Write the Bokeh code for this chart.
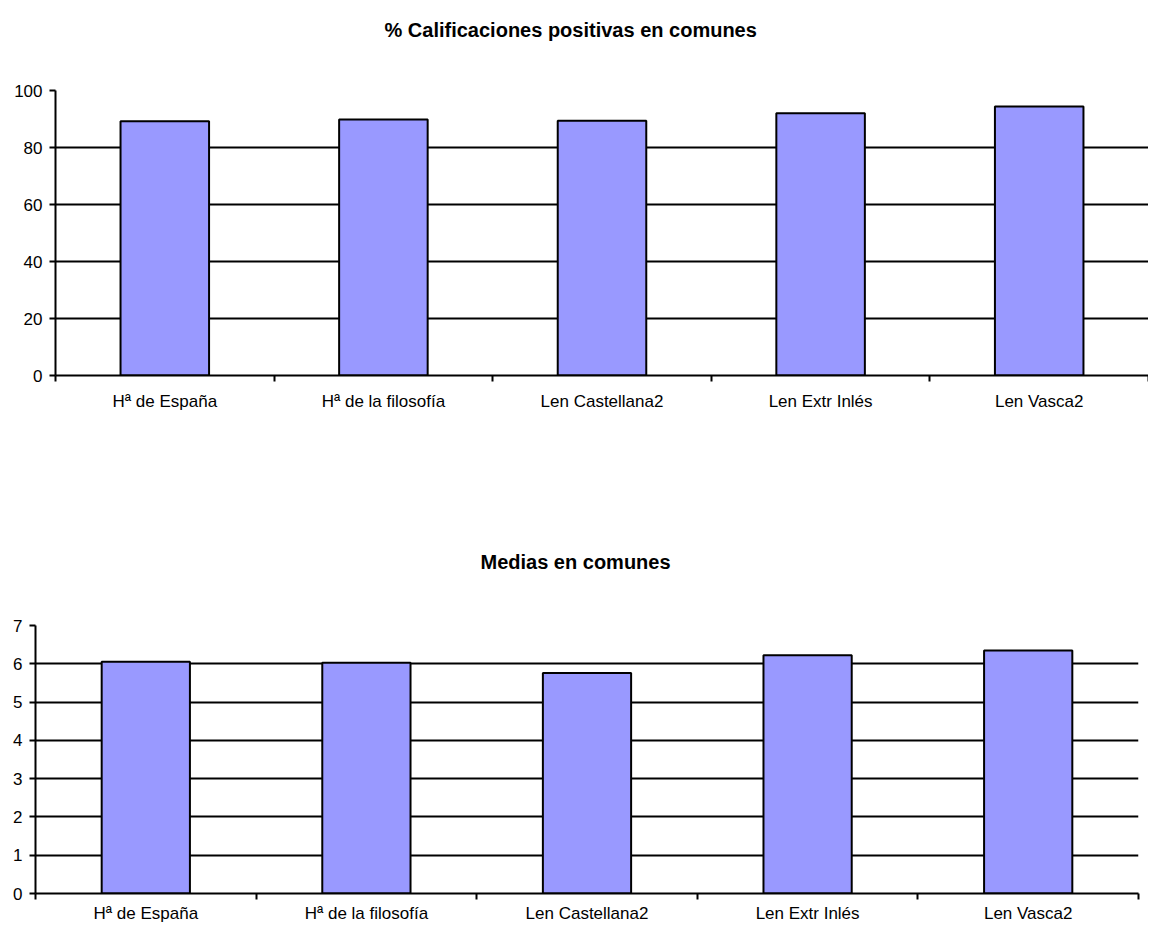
from bokeh.plotting import figure
from bokeh.models import Range1d, FixedTicker, Title
from bokeh.embed import file_html
from bokeh.resources import INLINE

categories = ["Hª de España", "Hª de la filosofía", "Len Castellana2", "Len Extr Inlés", "Len Vasca2"]
pct_positive = [89.2, 89.8, 89.4, 92.0, 94.4]
means = [6.05, 6.03, 5.76, 6.22, 6.35]
pct_ticks = [0, 20, 40, 60, 80, 100]
mean_ticks = [0, 1, 2, 3, 4, 5, 6, 7]
titles = ["% Calificaciones positivas en comunes", "Medias en comunes"]

FONT = "Liberation Sans"


def make_chart(title, values, yticks, width, height, borders, bar_width, title_offset, title_gap, xstandoff):
    left, right, top, bottom = borders
    n = len(categories)
    centers = [i + 1 for i in range(n)]
    bounds = [i + 0.5 for i in range(n + 1)]
    p = figure(width=width, height=height, output_backend="svg", toolbar_location=None,
               x_range=Range1d(0.5, n + 0.5), y_range=Range1d(yticks[0], yticks[-1]),
               min_border_left=left, min_border_right=right,
               min_border_top=top, min_border_bottom=bottom)
    p.outline_line_color = None
    p.background_fill_color = "white"
    p.border_fill_color = "white"
    p.xgrid.visible = False
    p.ygrid.ticker = FixedTicker(ticks=yticks)
    p.ygrid.grid_line_color = "black"
    p.ygrid.grid_line_width = 2

    p.vbar(x=centers, top=values, width=bar_width, bottom=0,
           fill_color="#9999FF", line_color="black", line_width=2)

    xa = p.xaxis[0]
    xa.ticker = FixedTicker(ticks=centers, minor_ticks=bounds)
    xa.major_label_overrides = {c: name for c, name in zip(centers, categories)}
    xa.major_tick_line_color = None
    xa.major_tick_out = 0
    xa.major_tick_in = 0
    xa.minor_tick_out = 6
    xa.minor_tick_in = 0
    xa.minor_tick_line_color = "black"
    xa.minor_tick_line_width = 2
    xa.axis_line_color = "black"
    xa.axis_line_width = 2
    xa.major_label_text_font = FONT
    xa.major_label_text_font_size = "17px"
    xa.major_label_text_color = "black"
    xa.major_label_standoff = xstandoff

    ya = p.yaxis[0]
    ya.ticker = FixedTicker(ticks=yticks)
    ya.major_tick_out = 6
    ya.major_tick_in = 0
    ya.major_tick_line_color = "black"
    ya.major_tick_line_width = 2
    ya.minor_tick_line_color = None
    ya.axis_line_color = "black"
    ya.axis_line_width = 2
    ya.major_label_text_font = FONT
    ya.major_label_text_font_size = "17px"
    ya.major_label_text_color = "black"
    ya.major_label_standoff = 7

    # invisible spacer between the frame and the title
    spacer = Title(text=" ", standoff=title_gap, text_font=FONT, text_font_size="20px",
                   text_color="white")
    p.add_layout(spacer, "above")
    t = Title(text=title, align="left", offset=title_offset, standoff=0,
              text_font=FONT, text_font_size="20px", text_font_style="bold",
              text_color="black")
    p.add_layout(t, "above")
    return p


p1 = make_chart(titles[0], pct_positive, pct_ticks, 1148, 470, (55, 0, 90, 95), 0.405, 329, 26, 10)
p2 = make_chart(titles[1], means, mean_ticks, 1148, 455, (35, 10, 155, 32), 0.40, 445, 29, 4)

open("out.html", "w").write(file_html([p1, p2], INLINE))
